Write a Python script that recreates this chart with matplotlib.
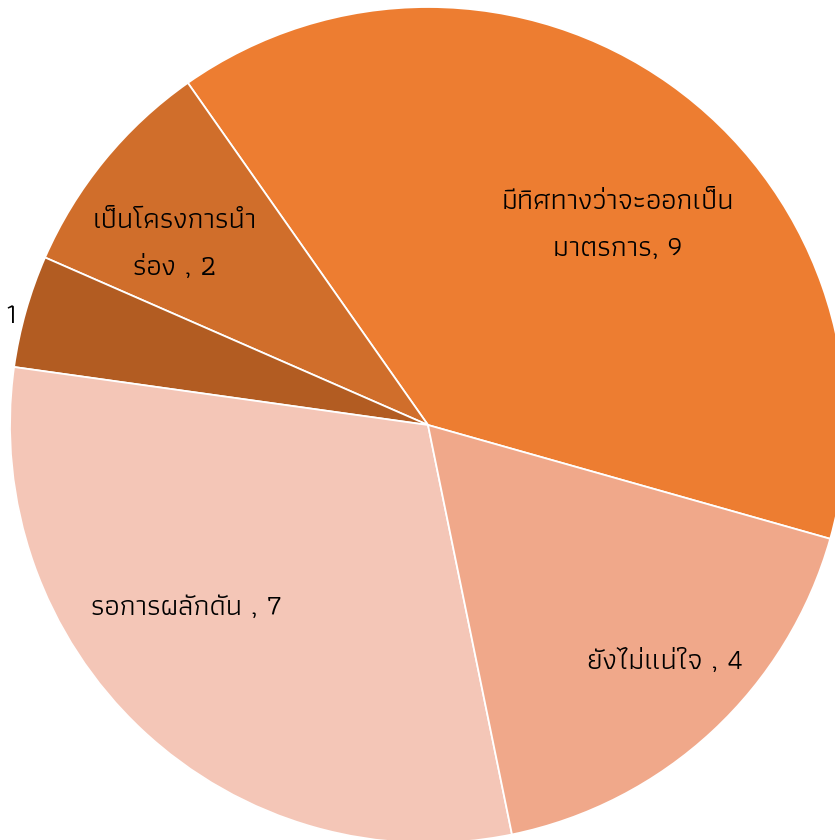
import matplotlib
matplotlib.use('Agg')
import matplotlib.pyplot as plt

# data (counter-clockwise, starting at the lower right edge of the big slice)
labels = ['มีทิศทางว่าจะออกเป็น\nมาตรการ, 9', 'เป็นโครงการนำ\nร่อง , 2', '1',
          'รอการผลักดัน , 7', 'ยังไม่แน่ใจ , 4']
values = [9, 2, 1, 7, 4]
colors = ['#ED7D31', '#D06E2B', '#B25C22', '#F4C6B7', '#F0A88A']
label_pos = [(0.455, 0.478), (-0.605, 0.433), (-0.997, 0.261),
             (-0.577, -0.437), (0.567, -0.565)]

plt.rcParams['font.family'] = ['Athiti', 'DejaVu Sans']

fig = plt.figure(figsize=(8.35, 8.4), dpi=100)
ax = fig.add_axes([0, 0, 1, 1])
ax.pie(values, colors=colors, startangle=-15.8, counterclock=True, radius=1.0,
       wedgeprops=dict(edgecolor='white', linewidth=1.3))

for (x, y), txt in zip(label_pos, labels):
    ax.text(x, y, txt, ha='center', va='center', fontsize=21,
            color='black', linespacing=2.1)

# pie is bigger than the canvas: centre at (428, 425) px, radius 418 px
ax.set_xlim(-428 / 418, 407 / 418)
ax.set_ylim(-415 / 418, 425 / 418)
ax.set_aspect('auto')
ax.axis('off')
fig.savefig('out.png', dpi=100)
